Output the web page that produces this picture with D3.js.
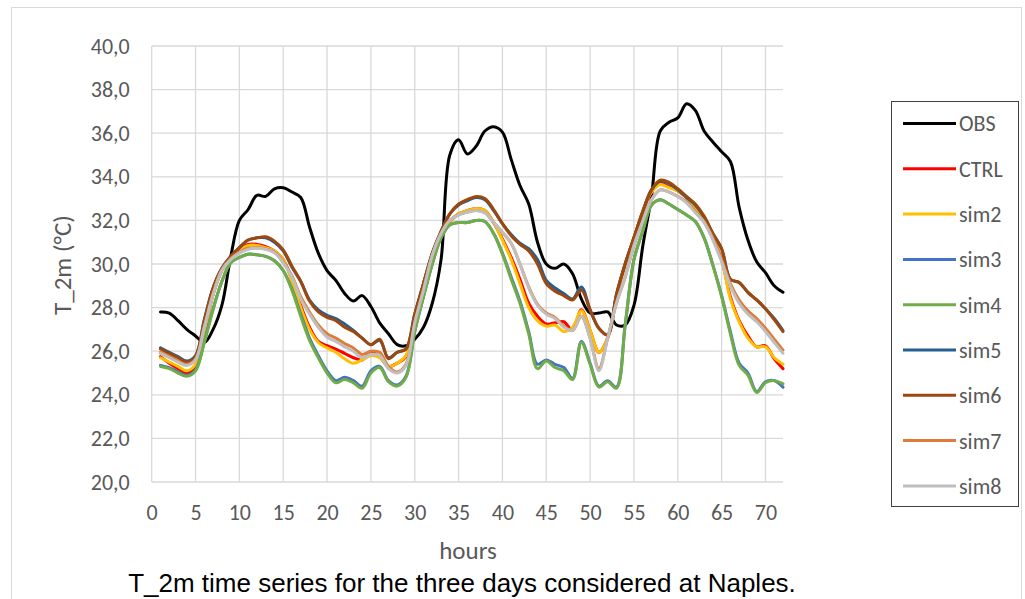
<!DOCTYPE html>
<html>
<head>
<meta charset="utf-8">
<script src="https://cdn.jsdelivr.net/npm/d3@7"></script>
<style>
  body { margin: 0; background: #fff; }
  svg { display: block; }
  .tick text { font-family: Calibri, Carlito, Lato, sans-serif; fill: #595959; }
</style>
</head>
<body>
<svg width="1025" height="599"></svg>
<script>
// hours 1..72
const hours = d3.range(1, 73);
const xTicks = [0, 5, 10, 15, 20, 25, 30, 35, 40, 45, 50, 55, 60, 65, 70];
const yTicks = [20, 22, 24, 26, 28, 30, 32, 34, 36, 38, 40];

const obs = [27.8,27.75,27.4,27.0,26.7,26.4,27.0,28.1,30.3,32.0,
  32.5,33.15,33.1,33.45,33.5,33.3,33.05,31.7,30.5,29.7,
  29.25,28.65,28.3,28.55,28.05,27.3,26.8,26.3,26.25,26.55,
  27.1,28.2,30.2,35.0,35.7,35.05,35.4,36.1,36.3,36.05,
  34.8,33.6,32.75,31.0,30.0,29.8,30.0,29.55,28.4,27.75,
  27.75,27.8,27.2,27.2,28.1,30.8,33.1,36.1,36.5,36.7,
  37.35,37.05,36.1,35.6,35.15,34.7,32.6,31.1,30.1,29.6,
  29.0,28.7];
const ctrl = [25.75,25.45,25.2,25.0,25.35,26.9,28.6,29.7,30.3,30.65,
  30.9,30.9,30.8,30.6,30.2,29.25,28.1,27.1,26.45,26.25,
  26.1,25.9,25.7,25.6,25.95,25.75,25.3,25.45,25.75,27.5,
  29.1,30.4,31.3,31.95,32.3,32.45,32.55,32.45,31.9,31.15,
  30.3,29.3,28.2,27.6,27.25,27.3,27.35,26.95,27.9,26.95,
  25.95,26.6,28.5,30.0,31.2,32.4,33.3,33.7,33.55,33.35,
  33.05,32.6,32.05,31.25,30.2,28.5,27.4,26.7,26.2,26.25,
  25.65,25.2];
const sim2 = [25.7,25.5,25.3,25.1,25.4,26.9,28.6,29.7,30.3,30.6,
  30.85,30.85,30.75,30.6,30.2,29.2,28.0,27.0,26.4,26.15,
  25.95,25.65,25.45,25.6,25.8,25.7,25.3,25.45,25.8,27.5,
  29.1,30.4,31.3,31.95,32.3,32.45,32.55,32.45,31.9,31.1,
  30.2,29.1,28.0,27.4,27.15,27.2,26.9,27.1,27.85,26.95,
  25.95,26.6,28.5,30.0,31.2,32.4,33.3,33.65,33.5,33.35,
  33.05,32.6,32.05,31.25,30.2,28.4,27.35,26.6,26.2,26.2,
  25.7,25.4];
const sim3 = [25.35,25.25,25.05,24.9,25.15,26.45,27.95,29.2,30.05,30.3,
  30.45,30.42,30.35,30.15,29.7,28.85,27.7,26.6,25.8,25.1,
  24.65,24.8,24.65,24.4,25.1,25.3,24.65,24.45,24.85,26.9,
  28.5,30.0,31.2,31.8,31.9,31.9,32.0,31.95,31.4,30.5,
  29.4,28.3,26.9,25.4,25.6,25.4,25.25,24.75,26.45,25.45,
  24.4,24.65,24.35,27.2,30.2,31.5,32.7,32.95,32.75,32.5,
  32.25,31.95,31.2,29.95,28.55,26.9,25.45,25.0,24.15,24.6,
  24.65,24.35];
const sim4 = [25.3,25.2,25.0,24.85,25.1,26.4,27.9,29.2,30.05,30.3,
  30.45,30.42,30.35,30.15,29.7,28.8,27.6,26.5,25.7,25.0,
  24.55,24.7,24.55,24.3,25.0,25.25,24.6,24.4,24.8,26.9,
  28.5,30.0,31.2,31.8,31.9,31.9,32.0,31.95,31.4,30.45,
  29.3,28.2,26.8,25.2,25.55,25.25,25.1,24.7,26.4,25.4,
  24.35,24.6,24.3,27.2,30.2,31.5,32.7,32.95,32.75,32.5,
  32.25,31.95,31.2,29.95,28.5,26.8,25.35,24.9,24.1,24.55,
  24.65,24.5];
const sim5 = [26.15,25.95,25.75,25.55,25.8,27.45,28.9,29.8,30.35,30.75,
  31.1,31.2,31.2,31.0,30.6,29.85,29.2,28.35,27.9,27.65,
  27.5,27.25,26.95,26.6,26.3,26.5,25.7,25.95,26.1,27.7,
  29.1,30.5,31.5,32.3,32.7,32.9,33.05,32.95,32.45,31.85,
  31.35,30.95,30.7,30.2,29.25,28.9,28.65,28.4,28.95,27.9,
  27.05,26.75,28.6,30.0,31.2,32.4,33.4,33.8,33.7,33.4,
  33.05,32.7,32.15,31.4,30.7,29.3,29.15,28.7,28.35,27.95,
  27.5,26.95];
const sim6 = [26.1,25.9,25.7,25.5,25.75,27.4,28.9,29.8,30.35,30.75,
  31.1,31.2,31.25,31.05,30.65,29.9,29.2,28.3,27.8,27.55,
  27.4,27.1,26.9,26.6,26.3,26.55,25.65,25.95,26.1,27.7,
  29.1,30.5,31.5,32.3,32.75,32.95,33.1,33.0,32.5,31.85,
  31.3,30.9,30.6,30.0,29.1,28.75,28.55,28.35,28.8,27.9,
  27.05,26.75,28.6,30.0,31.2,32.4,33.4,33.85,33.75,33.45,
  33.1,32.75,32.2,31.4,30.7,29.3,29.15,28.7,28.35,27.95,
  27.45,26.9];
const sim7 = [25.95,25.75,25.55,25.4,25.65,27.15,28.65,29.75,30.25,30.55,
  30.72,30.75,30.7,30.55,30.1,29.45,28.5,27.8,27.2,26.8,
  26.6,26.35,26.15,25.85,26.0,25.95,25.3,25.05,25.4,27.3,
  28.85,30.4,31.4,32.0,32.25,32.38,32.45,32.35,31.9,31.45,
  30.95,30.0,28.95,28.15,27.75,27.55,27.15,26.95,27.6,26.6,
  25.2,26.6,28.2,29.4,30.85,31.95,32.95,33.4,33.3,33.1,
  32.85,32.4,31.95,31.2,30.2,29.1,28.35,27.85,27.5,27.05,
  26.55,26.05];
const sim8 = [25.9,25.7,25.5,25.35,25.6,27.1,28.6,29.7,30.2,30.5,
  30.68,30.72,30.68,30.52,30.05,29.4,28.4,27.7,27.1,26.65,
  26.45,26.2,26.0,25.7,25.85,25.8,25.2,25.0,25.35,27.3,
  28.8,30.4,31.4,32.0,32.25,32.38,32.45,32.35,31.9,31.45,
  30.95,30.0,28.9,28.1,27.7,27.5,27.1,26.95,27.6,26.6,
  25.1,26.6,28.2,29.4,30.85,31.95,32.95,33.4,33.3,33.1,
  32.8,32.35,31.9,31.1,30.1,29.0,28.2,27.7,27.35,26.9,
  26.4,25.9];

const seriesNames = ['OBS', 'CTRL', 'sim2', 'sim3', 'sim4', 'sim5', 'sim6', 'sim7', 'sim8'];
const seriesValues = [obs, ctrl, sim2, sim3, sim4, sim5, sim6, sim7, sim8];
const seriesColors = ['#000000', '#ff0000', '#ffc000', '#4472c4', '#70ad47', '#255e91', '#9e480e', '#e07b39', '#bfbfbf'];

const svg = d3.select('svg');

// outer chart frame
svg.append('rect')
  .attr('x', 11.5).attr('y', 7.5)
  .attr('width', 1010).attr('height', 620)
  .attr('fill', 'none').attr('stroke', '#d9d9d9');

const x = d3.scaleLinear().domain([0, 72]).range([151.7, 783]);
const y = d3.scaleLinear().domain([20, 40]).range([482, 46]);

// gridlines
svg.append('g')
  .selectAll('line.h')
  .data(yTicks)
  .enter().append('line')
    .attr('x1', x(0)).attr('x2', x(72))
    .attr('y1', d => y(d)).attr('y2', d => y(d))
    .attr('stroke', '#d9d9d9').attr('stroke-width', 1.3);
svg.append('g')
  .selectAll('line.v')
  .data(xTicks)
  .enter().append('line')
    .attr('x1', d => x(d)).attr('x2', d => x(d))
    .attr('y1', y(20)).attr('y2', y(40))
    .attr('stroke', '#d9d9d9').attr('stroke-width', 1.3);

// axes (labels only)
const yAxis = svg.append('g')
  .attr('transform', `translate(${x(0) - 19},0)`)
  .call(d3.axisLeft(y).tickValues(yTicks).tickSize(0).tickFormat(d => d3.format('.1f')(d).replace('.', ',')));
yAxis.select('.domain').remove();
yAxis.selectAll('text').attr('font-size', 22);

const xAxis = svg.append('g')
  .attr('transform', `translate(0,${y(20) + 19})`)
  .call(d3.axisBottom(x).tickValues(xTicks).tickSize(0));
xAxis.select('.domain').remove();
xAxis.selectAll('text').attr('font-size', 22);

// axis titles
svg.append('text')
  .attr('x', 468).attr('y', 559)
  .attr('text-anchor', 'middle')
  .attr('font-family', 'Calibri, Carlito, Lato, sans-serif')
  .attr('font-size', 25).attr('fill', '#595959')
  .text('hours');
svg.append('text')
  .attr('transform', 'translate(71,265) rotate(-90)')
  .attr('text-anchor', 'middle')
  .attr('font-family', 'Calibri, Carlito, Lato, sans-serif')
  .attr('font-size', 25).attr('fill', '#595959')
  .text('T_2m (°C)');

// lines
const line = d3.line()
  .x((d, i) => x(hours[i]))
  .y(d => y(d))
  .curve(d3.curveCatmullRom.alpha(0.5));

svg.append('g')
  .selectAll('path')
  .data(seriesValues)
  .enter().append('path')
    .attr('d', line)
    .attr('fill', 'none')
    .attr('stroke', (d, i) => seriesColors[i])
    .attr('stroke-width', 3)
    .attr('stroke-linejoin', 'round')
    .attr('stroke-linecap', 'round');

// legend
const legend = svg.append('g');
legend.append('rect')
  .attr('x', 891.5).attr('y', 101.5)
  .attr('width', 127).attr('height', 405)
  .attr('fill', '#fff').attr('stroke', '#404040');
const item = legend.selectAll('g.item')
  .data(seriesNames)
  .enter().append('g')
    .attr('transform', (d, i) => `translate(0,${123.5 + i * 45.3})`);
item.append('line')
  .attr('x1', 903).attr('x2', 956)
  .attr('stroke', (d, i) => seriesColors[i])
  .attr('stroke-width', 3);
item.append('text')
  .attr('x', 959).attr('dy', '0.36em')
  .attr('font-family', 'Calibri, Carlito, Lato, sans-serif')
  .attr('font-size', 22).attr('fill', '#595959')
  .text(d => d);

// caption
svg.append('text')
  .attr('x', 462).attr('y', 592)
  .attr('text-anchor', 'middle')
  .attr('font-family', 'Liberation Sans, Arial, sans-serif')
  .attr('font-size', 26).attr('fill', '#000')
  .text('T_2m time series for the three days considered at Naples.');
</script>
</body>
</html>
